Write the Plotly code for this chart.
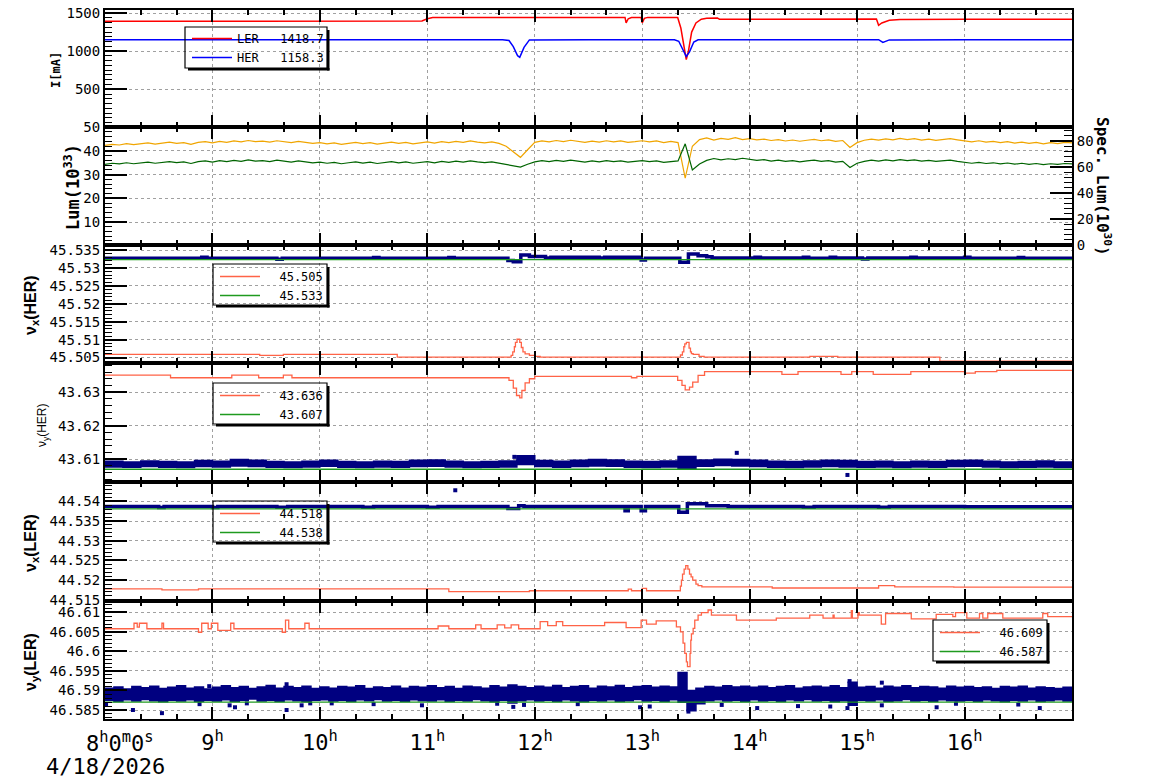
import plotly.graph_objects as go

MONO = "DejaVu Sans Mono"
SANS = "Liberation Sans"

# ---------------- data ----------------
hour_ticks = [9, 10, 11, 12, 13, 14, 15, 16]
hour_text = ["9<sup>h</sup>", "10<sup>h</sup>", "11<sup>h</sup>", "12<sup>h</sup>",
             "13<sup>h</sup>", "14<sup>h</sup>", "15<sup>h</sup>", "16<sup>h</sup>"]
start_label = "8<sup>h</sup>0<sup>m</sup>0<sup>s</sup>"
date_label = "4/18/2026"

# Panel 1: beam currents (mA)
ler_t = [8.0, 8.5, 9.0, 9.5, 10.0, 10.5, 10.95, 11.0, 11.05, 11.5, 12.0, 12.5, 12.84, 12.85, 12.87,
         12.9, 12.99, 13.0, 13.02, 13.05, 13.3, 13.33, 13.36, 13.39, 13.41, 13.43, 13.46, 13.5, 13.55,
         13.6, 13.7, 13.72, 14.0, 14.5, 15.0, 15.18, 15.2, 15.23, 15.3, 15.4, 16.0, 16.5, 17.0]
ler_i = [1392, 1393, 1392, 1394, 1393, 1394, 1395, 1425, 1442, 1443, 1444, 1443, 1443, 1370, 1425,
         1440, 1442, 1372, 1430, 1443, 1444, 1440, 1300, 1050, 890, 1000, 1250, 1370, 1420,
         1432, 1435, 1418, 1420, 1421, 1421, 1421, 1340, 1370, 1405, 1415, 1420, 1419, 1419]
her_t = [8.0, 9.0, 10.0, 11.0, 11.7, 11.76, 11.8, 11.84, 11.86, 11.9, 11.95, 12.5, 13.0, 13.3,
         13.34, 13.38, 13.41, 13.44, 13.48, 13.52, 14.0, 15.0, 15.2, 15.24, 15.3, 16.0, 17.0]
her_i = [1150, 1149, 1150, 1150, 1150, 1140, 1060, 940, 920, 1050, 1148, 1150, 1150, 1150,
         1130, 1020, 930, 990, 1120, 1150, 1151, 1150, 1150, 1115, 1148, 1151, 1150]
ler_name = "LER\u00a0\u00a0\u00a01418.7"
her_name = "HER\u00a0\u00a0\u00a01158.3"

# Panel 2: luminosity, 4-minute samples from 8h
lum_t = [8 + k / 15 for k in range(136)]
lum_v = [42.3, 42.8, 42.5, 43.1, 42.7, 43.0, 43.4, 42.9, 43.3, 43.7, 43.2, 43.5, 42.8, 43.6, 43.9,
         43.4, 44.0, 43.6, 44.2, 43.8, 44.4, 43.9, 44.1, 43.7, 44.3, 43.9, 43.5, 44.0, 43.6, 43.2,
         43.5, 43.0, 43.4, 42.8, 43.2, 43.6, 43.1, 43.5, 42.9, 43.3, 43.7, 43.2, 43.6, 43.0, 43.4,
         43.8, 43.3, 43.9, 43.5, 44.0, 43.6, 44.2, 43.7, 43.4, 43.8, 43.2, 42.0, 39.5, 37.3, 40.5,
         43.6, 44.2, 43.8, 44.4, 43.9, 44.5, 44.0, 43.6, 44.1, 43.7, 44.3, 43.8, 44.2, 43.6, 43.9,
         44.3, 43.8, 44.2, 43.5, 44.0, 43.5, 28.5, 42.0, 44.8, 45.5, 44.6, 45.3, 44.9, 45.6, 44.8,
         45.2, 44.7, 45.0, 44.4, 44.8, 44.2, 44.6, 44.1, 44.5, 44.9, 44.3, 44.7, 44.0, 44.4, 41.5,
         43.5, 44.5, 45.0, 44.6, 45.1, 44.7, 45.3, 44.8, 45.2, 44.6, 45.0, 44.5, 44.9, 45.2, 44.7,
         44.2, 43.8, 44.3, 43.7, 44.0, 43.5, 43.9, 43.3, 43.7, 43.2, 43.6, 43.0, 43.5, 43.1, 43.6, 43.4]
lum2_v = [34.3, 34.8, 34.5, 35.0, 34.6, 34.9, 35.3, 34.8, 35.2, 35.5, 35.1, 35.4, 34.7, 35.5, 35.8,
          35.3, 35.9, 35.5, 36.0, 35.6, 36.2, 35.7, 35.9, 35.5, 36.1, 35.7, 35.3, 35.8, 35.4, 35.0,
          35.3, 34.8, 35.2, 34.6, 35.0, 35.4, 34.9, 35.3, 34.7, 35.1, 35.5, 35.0, 35.4, 34.8, 35.2,
          35.5, 35.0, 35.6, 35.2, 35.7, 35.3, 35.8, 35.4, 35.1, 35.4, 34.8, 34.3, 33.6, 33.2, 34.4,
          35.4, 35.9, 35.5, 36.0, 35.6, 36.1, 35.7, 35.3, 35.8, 35.4, 35.9, 35.5, 35.8, 35.3, 35.6,
          35.9, 35.5, 35.8, 35.2, 35.6, 35.8, 43.0, 32.0, 34.5, 36.0, 36.8, 36.2, 36.7, 36.3, 36.9,
          36.4, 36.0, 36.3, 35.7, 36.1, 35.6, 35.9, 35.4, 35.8, 36.1, 35.6, 35.9, 35.3, 35.6, 33.0,
          34.8, 35.6, 36.1, 35.7, 36.2, 35.8, 36.3, 35.9, 36.2, 35.7, 36.0, 35.6, 35.9, 36.1, 35.6,
          35.2, 34.8, 35.2, 34.7, 35.0, 34.5, 34.9, 34.4, 34.8, 34.3, 34.7, 34.2, 34.6, 34.3, 34.7, 34.5]

# Panel 3: nu_x(HER)
nxh_meas_t = [8.0, 8.9, 8.95, 9.6, 9.65, 10.5, 10.55, 11.2, 11.25, 11.75, 11.8, 11.87, 11.95, 12.1,
              12.15, 12.6, 12.65, 12.99, 13.03, 13.35, 13.43, 13.52, 13.6, 13.65, 14.05, 14.1, 14.5,
              14.55, 14.75, 14.8, 15.05, 15.1, 15.5, 15.55, 16.0, 16.05, 16.5, 16.55, 17.0]
nxh_meas_v = [45.5327, 45.5330, 45.5327, 45.5324, 45.5327, 45.5329, 45.5327, 45.5329, 45.5327,
              45.5321, 45.5317, 45.5336, 45.5332, 45.5328, 45.5330, 45.5328, 45.5330, 45.5322,
              45.5327, 45.5316, 45.5339, 45.5334, 45.5331, 45.5328, 45.5330, 45.5328, 45.5330,
              45.5327, 45.5330, 45.5328, 45.5325, 45.5328, 45.5330, 45.5328, 45.5330, 45.5327,
              45.5329, 45.5327, 45.5327]
nxh_set_t = [8.0, 9.44, 9.66, 10.72, 11.78, 11.795, 11.81, 11.82, 11.835, 11.86, 11.875, 11.89, 11.91,
             11.95, 12.0, 12.05, 13.356, 13.374, 13.387, 13.396, 13.411, 13.436, 13.449, 13.458,
             13.474, 13.529, 13.576, 14.56, 14.82, 15.77, 17.0]
nxh_set_v = [45.5059, 45.5056, 45.5059, 45.5051, 45.5056, 45.5066, 45.5080, 45.5092, 45.5101,
             45.5092, 45.5078, 45.5066, 45.5060, 45.5056, 45.5053, 45.5051, 45.5057, 45.5066,
             45.5080, 45.5088, 45.5092, 45.5076, 45.5066, 45.5061, 45.5059, 45.5053, 45.5051,
             45.5053, 45.5051, 45.5040, 45.5040]
nxh_ref_t = [8.0, 17.0]
nxh_ref_v = [45.5323, 45.5323]
nxh_names = ["\u00a0\u00a045.505", "\u00a0\u00a045.533"]

# Panel 4: nu_y(HER), 10-minute envelope of the measured band
band10_t = [8 + k / 6 for k in range(55)]
nyh_hi = [43.6094, 43.6092, 43.6095, 43.6093, 43.6092, 43.6096, 43.6094, 43.6099, 43.6097, 43.6093,
          43.6092, 43.6094, 43.6097, 43.6093, 43.6092, 43.6094, 43.6093, 43.6097, 43.6098, 43.6094,
          43.6092, 43.6093, 43.6095, 43.6110, 43.6096, 43.6094, 43.6097, 43.6099, 43.6098, 43.6094,
          43.6093, 43.6095, 43.6108, 43.6098, 43.6100, 43.6099, 43.6097, 43.6094, 43.6093, 43.6095,
          43.6097, 43.6096, 43.6093, 43.6094, 43.6092, 43.6094, 43.6093, 43.6096, 43.6097, 43.6094,
          43.6092, 43.6093, 43.6095, 43.6092, 43.6091]
nyh_lo = [43.6077, 43.6076, 43.6078, 43.6076, 43.6075, 43.6078, 43.6077, 43.6080, 43.6078, 43.6076,
          43.6075, 43.6077, 43.6079, 43.6076, 43.6075, 43.6077, 43.6076, 43.6078, 43.6079, 43.6077,
          43.6075, 43.6076, 43.6077, 43.6084, 43.6078, 43.6076, 43.6078, 43.6080, 43.6079, 43.6076,
          43.6075, 43.6077, 43.6072, 43.6079, 43.6081, 43.6080, 43.6078, 43.6076, 43.6075, 43.6077,
          43.6078, 43.6077, 43.6076, 43.6077, 43.6075, 43.6077, 43.6076, 43.6078, 43.6079, 43.6077,
          43.6075, 43.6076, 43.6077, 43.6075, 43.6074]
nyh_out_t = [11.81, 13.88, 14.91]
nyh_out_v = [43.6107, 43.6119, 43.6053]
nyh_set_t = [8.0, 8.61, 9.18, 9.43, 9.66, 9.74, 11.76, 11.8, 11.83, 11.86, 11.88, 11.91, 11.95, 12.0,
             12.9, 12.95, 13.33, 13.37, 13.4, 13.44, 13.47, 13.52, 13.58, 14.3, 14.45, 14.85, 14.95,
             15.15, 15.5, 16.0, 16.1, 16.3, 17.0]
nyh_set_v = [43.6351, 43.6343, 43.6351, 43.6343, 43.6351, 43.6343, 43.6335, 43.6312, 43.6290, 43.6283,
             43.6305, 43.6328, 43.6340, 43.6347, 43.6343, 43.6347, 43.6335, 43.6320, 43.6307, 43.6315,
             43.6330, 43.6350, 43.6361, 43.6353, 43.6361, 43.6353, 43.6361, 43.6353, 43.6361, 43.6357,
             43.6361, 43.6365, 43.6365]
nyh_ref_t = [8.0, 17.0]
nyh_ref_v = [43.6070, 43.6070]
nyh_names = ["\u00a0\u00a043.636", "\u00a0\u00a043.607"]

# Panel 5: nu_x(LER)
nxl_meas_t = [8.0, 8.5, 8.55, 9.0, 9.05, 9.6, 9.7, 10.4, 10.5, 11.0, 11.1, 11.75, 11.85, 11.9, 12.84,
              12.87, 12.99, 13.03, 13.34, 13.42, 13.6, 13.8, 14.5, 14.6, 15.2, 15.3, 16.0, 17.0]
nxl_meas_v = [44.5387, 44.5384, 44.5387, 44.5384, 44.5387, 44.5385, 44.5387, 44.5385, 44.5387,
              44.5385, 44.5387, 44.5382, 44.5389, 44.5387, 44.5376, 44.5387, 44.5376, 44.5387,
              44.5372, 44.5394, 44.5389, 44.5387, 44.5385, 44.5387, 44.5385, 44.5387, 44.5386, 44.5386]
nxl_out_t = [11.26]
nxl_out_v = [44.5428]
nxl_set_t = [8.0, 8.53, 8.87, 11.2, 11.95, 12.87, 12.9, 13.0, 13.04, 13.355, 13.365, 13.375, 13.39,
             13.405, 13.425, 13.44, 13.455, 13.47, 13.5, 13.52, 13.555, 14.21, 15.2, 15.35, 15.9, 17.0]
nxl_set_v = [44.5178, 44.5175, 44.5178, 44.5171, 44.5173, 44.5177, 44.5173, 44.5179, 44.5173, 44.5185,
             44.5200, 44.5215, 44.5228, 44.5237, 44.5228, 44.5215, 44.5208, 44.5200, 44.5190, 44.5186,
             44.5183, 44.5180, 44.5186, 44.5183, 44.5182, 44.5182]
nxl_ref_t = [8.0, 17.0]
nxl_ref_v = [44.5381, 44.5381]
nxl_names = ["\u00a0\u00a044.518", "\u00a0\u00a044.538"]

# Panel 6: nu_y(LER), 5-minute envelope of the measured band
band5_t = [8 + k / 12 for k in range(109)]
nyl_hi = [46.5906, 46.5909, 46.5904, 46.5910, 46.5907, 46.5911, 46.5905, 46.5908, 46.5912, 46.5906, 46.5909, 46.5904,
          46.5908, 46.5912, 46.5907, 46.5910, 46.5905, 46.5909, 46.5913, 46.5906, 46.5910, 46.5907, 46.5911, 46.5905,
          46.5909, 46.5906, 46.5910, 46.5908, 46.5912, 46.5905, 46.5909, 46.5907, 46.5911, 46.5906, 46.5910, 46.5908,
          46.5912, 46.5907, 46.5910, 46.5905, 46.5911, 46.5909, 46.5906, 46.5912, 46.5908, 46.5914, 46.5910, 46.5907,
          46.5911, 46.5908, 46.5913, 46.5907, 46.5910, 46.5912, 46.5906, 46.5911, 46.5909, 46.5913, 46.5907, 46.5910,
          46.5912, 46.5908, 46.5911, 46.5909, 46.5946, 46.5900, 46.5906, 46.5910, 46.5908, 46.5912, 46.5909, 46.5911,
          46.5908, 46.5911, 46.5907, 46.5910, 46.5912, 46.5906, 46.5909, 46.5911, 46.5908, 46.5912, 46.5907, 46.5921,
          46.5908, 46.5910, 46.5906, 46.5911, 46.5908, 46.5912, 46.5907, 46.5910, 46.5909, 46.5906, 46.5911, 46.5908,
          46.5910, 46.5907, 46.5909, 46.5905, 46.5910, 46.5908, 46.5911, 46.5906, 46.5909, 46.5907, 46.5905, 46.5908,
          46.5906]
nyl_lo = [46.5875, 46.5872, 46.5876, 46.5873, 46.5877, 46.5874, 46.5871, 46.5875, 46.5873, 46.5876, 46.5872, 46.5875,
          46.5873, 46.5876, 46.5872, 46.5875, 46.5878, 46.5873, 46.5875, 46.5872, 46.5876, 46.5874, 46.5871, 46.5875,
          46.5876, 46.5873, 46.5875, 46.5872, 46.5876, 46.5874, 46.5877, 46.5873, 46.5875, 46.5872, 46.5876, 46.5874,
          46.5873, 46.5876, 46.5872, 46.5875, 46.5873, 46.5877, 46.5874, 46.5871, 46.5875, 46.5868, 46.5874, 46.5876,
          46.5873, 46.5875, 46.5872, 46.5876, 46.5874, 46.5871, 46.5875, 46.5873, 46.5876, 46.5872, 46.5874, 46.5877,
          46.5873, 46.5875, 46.5872, 46.5876, 46.5870, 46.5848, 46.5866, 46.5874, 46.5876, 46.5873, 46.5875, 46.5872,
          46.5876, 46.5873, 46.5875, 46.5872, 46.5876, 46.5874, 46.5877, 46.5873, 46.5875, 46.5871, 46.5874, 46.5862,
          46.5875, 46.5873, 46.5876, 46.5872, 46.5874, 46.5877, 46.5873, 46.5875, 46.5872, 46.5876, 46.5874, 46.5873,
          46.5875, 46.5872, 46.5876, 46.5874, 46.5871, 46.5875, 46.5873, 46.5876, 46.5872, 46.5874, 46.5876, 46.5873,
          46.5875]
nyl_out_t = [8.01, 8.26, 8.53, 8.88, 9.16, 9.21, 9.32, 9.69, 9.83, 9.91, 10.11, 10.5, 10.95, 11.65, 11.8,
             11.9, 12.4, 12.98, 13.07, 13.43, 13.47, 13.74, 14.07, 14.45, 14.75, 14.91, 15.23, 15.74,
             15.92, 16.5, 16.7, 8.97, 9.69, 14.93, 15.23]
nyl_out_v = [46.5865, 46.5850, 46.5842, 46.5865, 46.5862, 46.5857, 46.5867, 46.5850, 46.5862, 46.5867,
             46.5867, 46.5865, 46.5862, 46.5866, 46.5858, 46.5863, 46.5865, 46.5857, 46.5859, 46.5846,
             46.5856, 46.5863, 46.5855, 46.5860, 46.5859, 46.5855, 46.5862, 46.5857, 46.5866, 46.5864,
             46.5855, 46.5911, 46.5916, 46.5924, 46.5920]
nyl_set_t = [8.0, 8.27, 8.30, 8.32, 8.39, 8.53, 8.545, 8.87, 8.90, 8.96, 8.99, 9.05, 9.17, 9.20, 9.65,
             9.68, 9.71, 9.86, 9.90, 11.10, 11.20, 11.45, 11.50, 11.65, 11.72, 11.78, 11.85, 12.05,
             12.12, 12.20, 12.26, 12.65, 12.85, 12.99, 13.04, 13.13, 13.318, 13.356, 13.380, 13.396,
             13.411, 13.421, 13.445, 13.452, 13.458, 13.474, 13.489, 13.520, 13.551, 13.613, 13.644,
             13.877, 14.248, 14.559, 14.683, 14.776, 14.786, 14.946, 14.956, 15.008, 15.02, 15.225,
             15.265, 15.504, 15.736, 15.891, 15.916, 16.021, 16.139, 16.170, 16.216, 16.356, 16.728,
             16.774, 17.0]
nyl_set_v = [46.6058, 46.6072, 46.6062, 46.6072, 46.6058, 46.6072, 46.6058, 46.6049, 46.6072, 46.6058,
             46.6072, 46.6054, 46.6072, 46.6058, 46.6049, 46.6080, 46.6058, 46.6072, 46.6058, 46.6065,
             46.6058, 46.6068, 46.6058, 46.6068, 46.6060, 46.6068, 46.6058, 46.6076, 46.6066, 46.6076,
             46.6066, 46.6074, 46.6061, 46.6080, 46.6070, 46.6078, 46.6063, 46.6050, 46.6021, 46.5995,
             46.5973, 46.5961, 46.5995, 46.6029, 46.6045, 46.6059, 46.6080, 46.6093, 46.6099, 46.6106,
             46.6093, 46.6080, 46.6085, 46.6093, 46.6085, 46.6093, 46.6085, 46.6104, 46.6085, 46.6099,
             46.6093, 46.6070, 46.6097, 46.6083, 46.6095, 46.6089, 46.6099, 46.6085, 46.6097, 46.6085,
             46.6097, 46.6085, 46.6097, 46.6089, 46.6089]
nyl_ref_t = [8.0, 17.0]
nyl_ref_v = [46.5870, 46.5870]
nyl_names = ["\u00a0\u00a046.609", "\u00a0\u00a046.587"]

# ---------------- layout helpers ----------------
# target plot-area position in the 1154x782 window (page body has an 8px margin)
BODY = 8
W, H = 1154 - BODY, 782 - BODY
L, R, T, B = 105, 1072, 10, 719
def px(x):
    return (x - L) / (R - L)
def py(y):
    return (B - y) / (B - T)

edges = [10, 127, 245, 363, 482, 601, 719]
NAVY = "#000080"
TOMATO = "#ff6347"
GREEN = "#1f9a1f"
GRID = "#a0a0a0"

fig = go.Figure()

def ax(k):
    return ("x" if k == 1 else "x%d" % k), ("y" if k == 1 else "y%d" % k)

def add_line(k, x, y, color, width, name=None, legend="legend", shape="linear", yaxis=None):
    xa, ya = ax(k)
    fig.add_trace(go.Scatter(x=x, y=y, mode="lines", xaxis=xa, yaxis=yaxis or ya,
                             line=dict(color=color, width=width, shape=shape),
                             name=name if name else "", showlegend=name is not None,
                             legend=legend, hoverinfo="skip"))

def add_band(k, x, hi, lo, legend):
    xa, ya = ax(k)
    fig.add_trace(go.Scatter(x=x, y=hi, mode="lines", xaxis=xa, yaxis=ya, showlegend=False,
                             legend=legend, line=dict(color=NAVY, width=1.5, shape="hv"),
                             hoverinfo="skip"))
    fig.add_trace(go.Scatter(x=x, y=lo, mode="lines", xaxis=xa, yaxis=ya, showlegend=False,
                             legend=legend, fill="tonexty", fillcolor=NAVY,
                             line=dict(color=NAVY, width=1.5, shape="hv"), hoverinfo="skip"))

def add_points(k, x, y):
    xa, ya = ax(k)
    fig.add_trace(go.Scatter(x=x, y=y, mode="markers", xaxis=xa, yaxis=ya, showlegend=False,
                             marker=dict(symbol="square", size=4, color=NAVY, line=dict(width=0)),
                             hoverinfo="skip"))

# Panel 1
add_line(1, ler_t, ler_i, "#ff0000", 1.5, ler_name, "legend")
add_line(1, her_t, her_i, "#0000ff", 1.5, her_name, "legend")
# Panel 2
add_line(2, lum_t, lum_v, "#f0a500", 1.2)
add_line(2, lum_t, lum2_v, "#006400", 1.2)
fig.add_trace(go.Scatter(x=[], y=[], xaxis="x2", yaxis="y7", showlegend=False))
# Panel 3
add_line(3, nxh_meas_t, nxh_meas_v, NAVY, 3.5, shape="hv")
add_line(3, nxh_set_t, nxh_set_v, TOMATO, 1.3, nxh_names[0], "legend2", shape="hv")
add_line(3, nxh_ref_t, nxh_ref_v, GREEN, 1.3, nxh_names[1], "legend2")
# Panel 4
add_band(4, band10_t, nyh_hi, nyh_lo, "legend3")
add_points(4, nyh_out_t, nyh_out_v)
add_line(4, nyh_set_t, nyh_set_v, TOMATO, 1.3, nyh_names[0], "legend3", shape="hv")
add_line(4, nyh_ref_t, nyh_ref_v, GREEN, 1.3, nyh_names[1], "legend3")
# Panel 5
add_line(5, nxl_meas_t, nxl_meas_v, NAVY, 3.5, shape="hv")
add_points(5, nxl_out_t, nxl_out_v)
add_line(5, nxl_set_t, nxl_set_v, TOMATO, 1.3, nxl_names[0], "legend4", shape="hv")
add_line(5, nxl_ref_t, nxl_ref_v, GREEN, 1.3, nxl_names[1], "legend4")
# Panel 6
add_band(6, band5_t, nyl_hi, nyl_lo, "legend5")
add_points(6, nyl_out_t, nyl_out_v)
add_line(6, nyl_set_t, nyl_set_v, TOMATO, 1.3, nyl_names[0], "legend5", shape="hv")
add_line(6, nyl_ref_t, nyl_ref_v, GREEN, 1.3, nyl_names[1], "legend5")

# ---------------- axes ----------------
tickfont = dict(family=MONO, size=14, color="black")
yspecs = {
    1: dict(range=[5, 1540], dtick=500, tick0=0, fmt="d", minor=62.5),
    2: dict(range=[0.3, 50.1], dtick=10, tick0=0, fmt="d", minor=2),
    3: dict(range=[45.50347, 45.5364], dtick=0.005, tick0=45.5, fmt=".3~f", minor=0.001),
    4: dict(range=[43.6032, 43.6387], dtick=0.01, tick0=43.6, fmt=".2~f", minor=0.002),
    5: dict(range=[44.5147, 44.5449], dtick=0.005, tick0=44.5, fmt=".3~f", minor=0.001),
    6: dict(range=[46.5827, 46.6129], dtick=0.005, tick0=46.58, fmt=".3~f", minor=0.001),
}
layout_axes = {}
for k in range(1, 7):
    xa, ya = ax(k)
    xname = "xaxis" if k == 1 else "xaxis%d" % k
    yname = "yaxis" if k == 1 else "yaxis%d" % k
    y0, y1 = py(edges[k]), py(edges[k - 1])
    layout_axes[xname] = dict(
        domain=[0, 1], anchor=ya, range=[8, 17], tickmode="array", tickvals=hour_ticks,
        ticktext=hour_text, showticklabels=(k == 6), ticks="inside", ticklen=12, tickwidth=2,
        tickcolor="black", showline=True, linewidth=2, linecolor="black", mirror="ticks",
        showgrid=True, gridcolor=GRID, gridwidth=1, griddash="3px,3px", zeroline=False,
        automargin=False, ticklabeloverflow="allow",
        tickfont=dict(family=MONO, size=22, color="black"), ticklabelstandoff=3,
        minor=dict(tickmode="linear", tick0=8, dtick=1 / 3, ticks="inside", ticklen=5,
                   tickwidth=1.5, tickcolor="black", showgrid=False),
        **({} if k == 1 else dict(matches="x")))
    s = yspecs[k]
    layout_axes[yname] = dict(
        domain=[y0, y1], anchor=xa, range=s["range"], tickmode="linear", tick0=s["tick0"],
        dtick=s["dtick"], tickformat=s["fmt"], ticks="inside", ticklen=22, tickwidth=2,
        tickcolor="black", showline=True, linewidth=2, linecolor="black", mirror=True,
        showgrid=True, gridcolor=GRID, gridwidth=1, griddash="3px,3px", zeroline=False,
        automargin=False, ticklabeloverflow="allow", tickfont=tickfont,
        minor=dict(tickmode="linear", tick0=s["tick0"], dtick=s["minor"], ticks="inside",
                   ticklen=7, tickwidth=1.2, tickcolor="black", showgrid=False))
layout_axes["yaxis7"] = dict(
    overlaying="y2", side="right", anchor="x2", range=[-0.1, 90.8], tickmode="linear", tick0=0,
    dtick=20, ticks="inside", ticklen=22, tickwidth=2, tickcolor="black", showline=True,
    linewidth=2, linecolor="black", showgrid=False, zeroline=False, tickfont=tickfont,
    automargin=False, ticklabeloverflow="allow",
    minor=dict(tickmode="linear", tick0=0, dtick=4, ticks="inside", ticklen=8, tickwidth=1.2,
               tickcolor="black", showgrid=False))

# ---------------- legends (boxes drawn as shapes) ----------------
def legend_cfg(x, y):
    return dict(x=px(x), y=py(y), xanchor="left", yanchor="top", bgcolor="rgba(0,0,0,0)",
                borderwidth=0, font=dict(family=MONO, size=12, color="black"),
                itemwidth=40, tracegroupgap=0, traceorder="normal",
                itemclick=False, itemdoubleclick=False)

boxes = [(185, 27, 327, 68), (213, 264, 327, 305), (213, 383, 327, 424),
         (213, 501, 327, 542), (933, 620, 1047, 661)]
shapes = []
for (x0, y0, x1, y1) in boxes:
    shapes.append(dict(type="rect", xref="paper", yref="paper", x0=px(x0), x1=px(x1),
                       y0=py(y1), y1=py(y0), line=dict(color="black", width=1.2)))
    shapes.append(dict(type="rect", xref="paper", yref="paper", x0=px(x1), x1=px(x1 + 2.5),
                       y0=py(y1 + 2.5), y1=py(y0 + 3), fillcolor="black", line=dict(width=0)))
    shapes.append(dict(type="rect", xref="paper", yref="paper", x0=px(x0 + 3), x1=px(x1 + 2.5),
                       y0=py(y1 + 2.5), y1=py(y1), fillcolor="black", line=dict(width=0)))

# ---------------- titles ----------------
def ann(text, x, y, size, family, bold=False, angle=-90, **kw):
    return dict(text=("<b>%s</b>" % text) if bold else text, x=px(x), y=py(y), xref="paper",
                yref="paper", showarrow=False, textangle=angle, xanchor="center",
                yanchor="middle", font=dict(family=family, size=size, color="black"), **kw)

annotations = [
    ann("I[mA]", 56, 70, 12, MONO, bold=True),
    ann("Lum(10<sup>33</sup>)", 72, 187, 17, MONO, bold=True),
    ann("Spec. Lum(10<sup>30</sup>)", 1103, 186, 16, MONO, bold=True, angle=90),
    ann("ν<sub>x</sub>(HER)", 31, 305, 16, SANS, bold=True),
    ann("ν<sub>y</sub>(HER)", 43, 425, 12, SANS),
    ann("ν<sub>x</sub>(LER)", 31, 543, 16, SANS, bold=True),
    ann("ν<sub>y</sub>(LER)", 31, 662, 16, SANS, bold=True),
    ann(start_label, 120, 742, 22, MONO, angle=0),
    ann(date_label, 105, 767, 22, MONO, angle=0),
]

fig.update_layout(
    width=W, height=H,
    margin=dict(l=L - BODY, r=W - (R - BODY), t=T - BODY, b=H - (B - BODY), autoexpand=False),
    paper_bgcolor="white", plot_bgcolor="white", showlegend=True,
    legend=legend_cfg(187, 24), legend2=legend_cfg(215, 262), legend3=legend_cfg(215, 381),
    legend4=legend_cfg(215, 499), legend5=legend_cfg(935, 618),
    shapes=shapes, annotations=annotations, **layout_axes)

fig.write_html("out.html")
